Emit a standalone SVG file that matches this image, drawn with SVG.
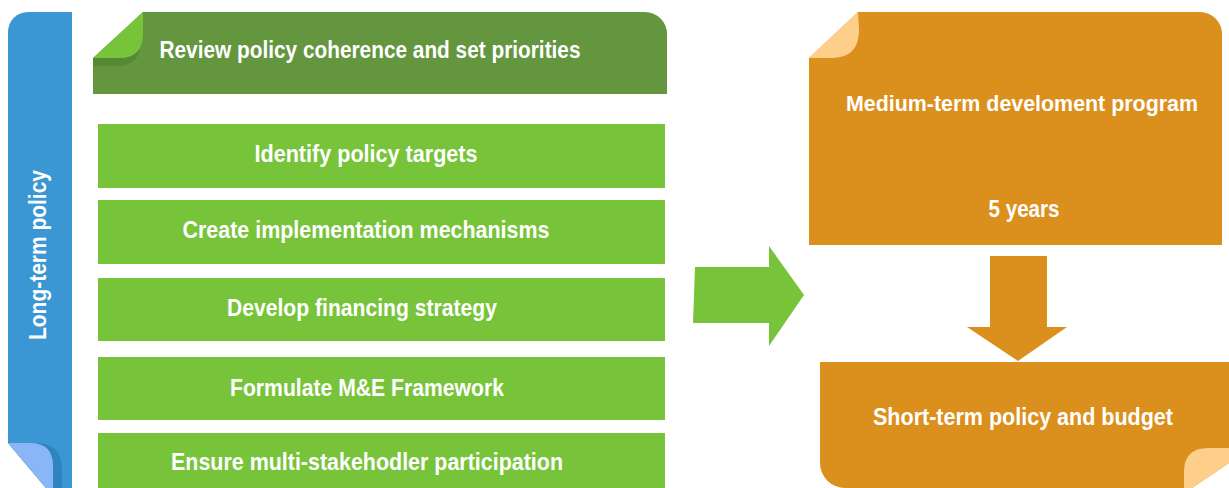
<svg xmlns="http://www.w3.org/2000/svg" width="1229" height="488" viewBox="0 0 1229 488">
<style>
.t{font-family:"Liberation Sans",Arial,sans-serif;font-weight:bold;fill:#ffffff;font-size:24px;text-anchor:middle}
.g{fill:#77c43a}
.o{fill:#db901d}
</style>
<rect width="1229" height="488" fill="#ffffff"/>
<g id="long-term">
<path d="M28,12 L72,12 L72,488 L46,488 L8,443 L8,32 A20,20 0 0 1 28,12 Z" fill="#3b97d3"/>
<path d="M8,443 L36,443 Q62,443 62,470 L62,488 L46,488 Z" fill="#2f84c0"/>
<path d="M8,443 L30,443 Q53,443 53,466 L53,488 L46,488 Z" fill="#8ab6f7"/>
<text class="t" transform="translate(46,255) rotate(-90)" x="0" y="0" textLength="170" lengthAdjust="spacingAndGlyphs">Long-term policy</text>
</g>
<g id="review">
<path d="M93,58 L143,12 L645,12 A22,22 0 0 1 667,34 L667,94 L93,94 Z" fill="#63963f"/>
<path d="M93,58 L93,66 L117,66 Q139,66 141,44 L143,34 Q143,58 119,58 Z" fill="#558a35"/>
<path d="M93,58 L143,12 L143,34 Q143,58 119,58 Z" fill="#77c43a"/>
<text class="t" x="370" y="58" textLength="421" lengthAdjust="spacingAndGlyphs">Review policy coherence and set priorities</text>
</g>
<g id="targets">
<rect class="g" x="98" y="124" width="567" height="64"/>
<text class="t" x="366" y="162" textLength="223" lengthAdjust="spacingAndGlyphs">Identify policy targets</text>
</g>
<g id="mechanisms">
<rect class="g" x="98" y="200" width="567" height="64"/>
<text class="t" x="366" y="238" textLength="367" lengthAdjust="spacingAndGlyphs">Create implementation mechanisms</text>
</g>
<g id="financing">
<rect class="g" x="98" y="278" width="567" height="63"/>
<text class="t" x="362" y="316" textLength="270" lengthAdjust="spacingAndGlyphs">Develop financing strategy</text>
</g>
<g id="me">
<rect class="g" x="98" y="357" width="567" height="63"/>
<text class="t" x="367" y="396" textLength="274" lengthAdjust="spacingAndGlyphs">Formulate M&amp;E Framework</text>
</g>
<g id="participation">
<rect class="g" x="98" y="433" width="567" height="55"/>
<text class="t" x="367" y="470" textLength="392" lengthAdjust="spacingAndGlyphs">Ensure multi-stakehodler participation</text>
</g>
<g id="connectors">
<path d="M695,267 L769,267 L769,246 L804,295 L769,346 L769,323 L693,323 Z" fill="#77c43a"/>
<path d="M990,256 L1047,256 L1047,327 L1067,327 L1018,361 L967,327 L990,327 Z" fill="#db901d"/>
</g>
<g id="medium">
<path d="M809,58 L858,12 L1200,12 A22,22 0 0 1 1222,34 L1222,245 L809,245 Z" class="o"/>
<path d="M809,58 L858,12 L859,30 Q859,57 833,58 Z" fill="#fdcf8a"/>
<text class="t" x="1022" y="111" font-size="22" style="font-size:22px" textLength="352" lengthAdjust="spacingAndGlyphs">Medium-term develoment program</text>
<text class="t" x="1024" y="217" textLength="71" lengthAdjust="spacingAndGlyphs">5 years</text>
</g>
<g id="short">
<path d="M820,362 L1229,362 L1229,463 L1192,488 L845,488 A25,25 0 0 1 820,463 Z" class="o"/>
<path d="M1184,488 L1184,472 Q1184,448 1208,448 L1229,448 L1229,463 L1192,488 Z" fill="#fdcf8a"/>
<text class="t" x="1023" y="425" textLength="300" lengthAdjust="spacingAndGlyphs">Short-term policy and budget</text>
</g>
</svg>
